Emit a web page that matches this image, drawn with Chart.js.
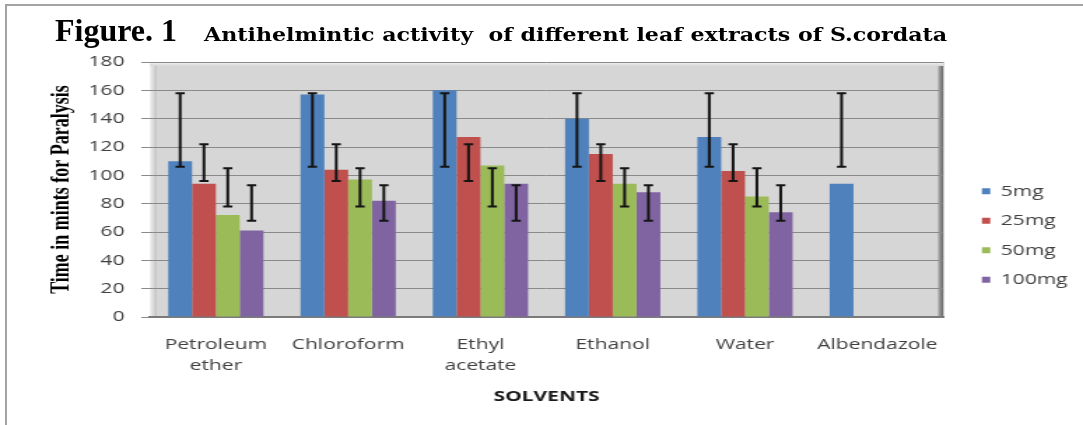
<!DOCTYPE html>
<html>
<head>
<meta charset="utf-8">
<script src="https://cdn.jsdelivr.net/npm/chart.js@4/dist/chart.umd.min.js"></script>
<style>
  html, body { margin: 0; padding: 0; background: #fff; }
  #wrap { position: relative; width: 1083px; height: 425px; overflow: hidden; }
  #chart { position: absolute; left: 0; top: 0; }
  #frame { position: absolute; left: 5px; top: 4px; right: -4px; bottom: -4px;
           border-left: 2px solid #a3a3a3; border-top: 2px solid #a3a3a3; }
  #title { position: absolute; left: 55px; top: 12px; line-height: 32px; white-space: pre; color: #000; }
  #title .fig { font: bold 32px "Liberation Serif", serif; }
  #title .sub { display: inline-block; font: bold 18px "DejaVu Serif", serif; margin-left: 27px;
                transform: scaleX(1.23); transform-origin: left center; }
</style>
</head>
<body>
<div id="wrap">
  <canvas id="chart" width="774" height="425" style="width:1083px;height:425px"></canvas>
  <div id="frame"></div>
  <div id="title"><span class="fig">Figure. 1</span><span class="sub">Antihelmintic activity  of different leaf extracts of S.cordata</span></div>
</div>
<script>
const categories = [['Petroleum', 'ether'], 'Chloroform', ['Ethyl', 'acetate'], 'Ethanol', 'Water', 'Albendazole'];
const seriesNames = ['5mg', '25mg', '50mg', '100mg'];
const mg5 = [110, 157, 160, 140, 127, 94];
const mg25 = [94, 104, 127, 115, 103, null];
const mg50 = [72, 97, 107, 94, 85, null];
const mg100 = [61, 82, 94, 88, 74, null];
// excel style standard deviation bars: one low/high range per series
const errLow = [106, 96, 78, 68];
const errHigh = [158, 122, 105, 93];
const yTicks = [0, 20, 40, 60, 80, 100, 120, 140, 160, 180];

const colors = ['#4f81bd', '#c0504d', '#9bbb59', '#8064a2'];
const tickFont = { family: 'Open Sans', size: 15 };

const plotBack = {
  id: 'plotBack',
  beforeDraw(chart) {
    const { ctx, chartArea: a } = chart;
    ctx.save();
    ctx.fillStyle = '#d6d6d6';
    ctx.fillRect(a.left, a.top, a.right - a.left, a.bottom - a.top);
    let g = ctx.createLinearGradient(a.left, 0, a.left + 5, 0);
    g.addColorStop(0, '#f2f2f2');
    g.addColorStop(1, '#c2c2c2');
    ctx.fillStyle = g;
    ctx.fillRect(a.left, a.top, 5, a.bottom - a.top);
    g = ctx.createLinearGradient(a.right - 4, 0, a.right, 0);
    g.addColorStop(0, '#b5b5b5');
    g.addColorStop(1, '#5e5e5e');
    ctx.fillStyle = g;
    ctx.fillRect(a.right - 4, a.top, 4, a.bottom - a.top);
    g = ctx.createLinearGradient(0, a.top, 0, a.top + 4);
    g.addColorStop(0, '#f4f4f4');
    g.addColorStop(1, '#d6d6d6');
    ctx.fillStyle = g;
    ctx.fillRect(a.left, a.top, a.right - a.left, 4);
    ctx.restore();
  }
};

const errorBars = {
  id: 'errorBars',
  afterDatasetsDraw(chart) {
    const { ctx } = chart;
    const y = chart.scales.y;
    ctx.save();
    ctx.strokeStyle = '#141414';
    ctx.lineWidth = 2;
    chart.data.datasets.forEach((ds, i) => {
      const lo = y.getPixelForValue(errLow[i]);
      const hi = y.getPixelForValue(errHigh[i]);
      chart.getDatasetMeta(i).data.forEach((bar, j) => {
        if (ds.data[j] == null) return;
        const x = bar.x;
        ctx.beginPath();
        ctx.moveTo(x, hi); ctx.lineTo(x, lo);
        ctx.moveTo(x - 3.3, hi); ctx.lineTo(x + 3.3, hi);
        ctx.moveTo(x - 3.3, lo); ctx.lineTo(x + 3.3, lo);
        ctx.stroke();
      });
    });
    ctx.restore();
  }
};

new Chart(document.getElementById('chart'), {
  type: 'bar',
  data: {
    labels: categories,
    datasets: [mg5, mg25, mg50, mg100].map((d, i) => ({
      label: seriesNames[i],
      data: d,
      backgroundColor: colors[i],
      borderWidth: 0,
      categoryPercentage: 0.72,
      barPercentage: 1
    }))
  },
  options: {
    responsive: false,
    devicePixelRatio: 1,
    animation: false,
    events: [],
    layout: { padding: { top: 62, left: 0, right: 1, bottom: 16 } },
    plugins: {
      title: { display: false },
      tooltip: { enabled: false },
      legend: {
        position: 'right',
        labels: {
          boxWidth: 6,
          boxHeight: 6,
          padding: 14.5,
          color: '#404040',
          font: tickFont
        }
      }
    },
    scales: {
      x: {
        grid: { display: false, drawTicks: false },
        border: { display: true, color: '#7a7a7a', width: 2 },
        ticks: {
          color: '#404040',
          font: { family: 'Open Sans', size: 15, lineHeight: 1.4 },
          padding: 17,
          maxRotation: 0,
          autoSkip: false
        },
        title: {
          display: true,
          text: 'SOLVENTS',
          color: '#1a1a1a',
          font: { family: 'Open Sans', size: 15, weight: 'bold' },
          padding: { top: 0, bottom: 3 }
        },
        afterFit(scale) { scale.height = 92; }
      },
      y: {
        min: 0,
        max: 180,
        afterBuildTicks(scale) { scale.ticks = yTicks.map(v => ({ value: v })); },
        grid: { color: '#8a8a8a', lineWidth: 1, drawTicks: true, tickLength: 6 },
        border: { display: false },
        ticks: { color: '#404040', font: tickFont, padding: 12 },
        title: {
          display: true,
          text: 'Time in mints for Paralysis',
          color: '#000',
          font: { family: 'Liberation Serif', size: 18, weight: 'bold' },
          padding: { top: 34, bottom: 0 }
        },
        afterFit(scale) { scale.width = 107; }
      },
      spacer: {
        type: 'linear',
        position: 'right',
        display: true,
        grid: { display: false, drawTicks: false },
        border: { display: false },
        ticks: { display: false },
        afterFit(scale) { scale.width = 13; }
      }
    }
  },
  plugins: [plotBack, errorBars]
});
</script>
</body>
</html>
